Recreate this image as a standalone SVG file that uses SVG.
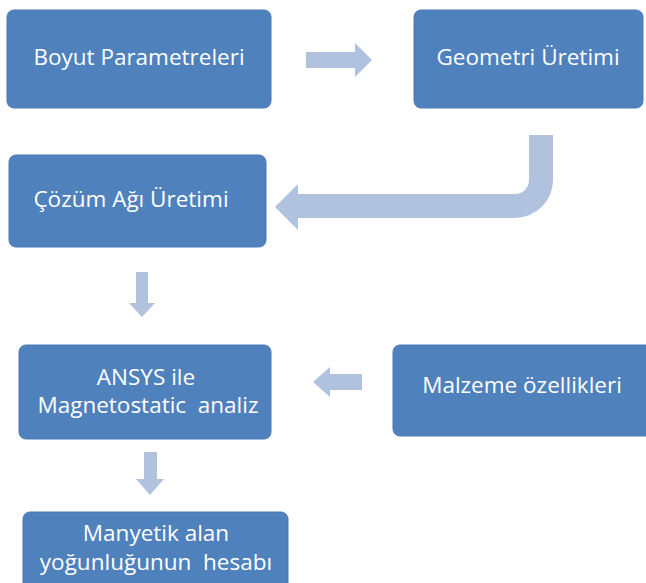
<svg xmlns="http://www.w3.org/2000/svg" width="646" height="583" viewBox="0 0 646 583">
<style>
.box{fill:#4F81BD;stroke:#4A7AB3;stroke-width:1}
.lbl{fill:#FFFFFF;font-family:"Open Sans","Liberation Sans",sans-serif;font-size:22.5px;text-anchor:middle}
.arr{fill:#B0C2DD;stroke:none}
</style>
<rect x="0" y="0" width="646" height="583" fill="#FFFFFF"/>
<g id="connectors">
<path class="arr" d="M306,52 H355 V43 L372,60 L355,77 V68 H306 Z"/>
<path class="arr" d="M529,135 H553 V180 A38,38 0 0 1 515,218 H298 V230 L275,207 L298,184 V194 H515 A14,14 0 0 0 529,180 Z"/>
<path class="arr" d="M136,272 H148 V303 H155 L142,317 L129,303 H136 Z"/>
<path class="arr" d="M362,374 V390 H330 V397 L313,382 L330,367 V374 Z"/>
<path class="arr" d="M144,452 H157 V479 H164 L150,495 L136,479 H144 Z"/>
</g>
<g id="boyut">
<rect class="box" x="7" y="10" width="264" height="98" rx="7"/>
<text class="lbl" x="139" y="65">Boyut Parametreleri</text>
</g>
<g id="geometri">
<rect class="box" x="414" y="10" width="229" height="98" rx="7"/>
<text class="lbl" x="528" y="65">Geometri Üretimi</text>
</g>
<g id="cozum">
<rect class="box" x="9" y="155" width="257" height="92" rx="7"/>
<text class="lbl" x="131" y="207">Çözüm Ağı Üretimi</text>
</g>
<g id="ansys">
<rect class="box" x="19" y="345" width="252" height="94" rx="7"/>
<text class="lbl" x="146" y="385">ANSYS ile</text>
<text class="lbl" x="148" y="413" xml:space="preserve">Magnetostatic  analiz</text>
</g>
<g id="malzeme">
<rect class="box" x="393" y="345" width="260" height="91" rx="7"/>
<text class="lbl" x="522" y="393">Malzeme özellikleri</text>
</g>
<g id="manyetik">
<rect class="box" x="23" y="512" width="265" height="80" rx="7"/>
<text class="lbl" x="156" y="541">Manyetik alan</text>
<text class="lbl" x="156" y="570" xml:space="preserve">yoğunluğunun  hesabı</text>
</g>
</svg>
